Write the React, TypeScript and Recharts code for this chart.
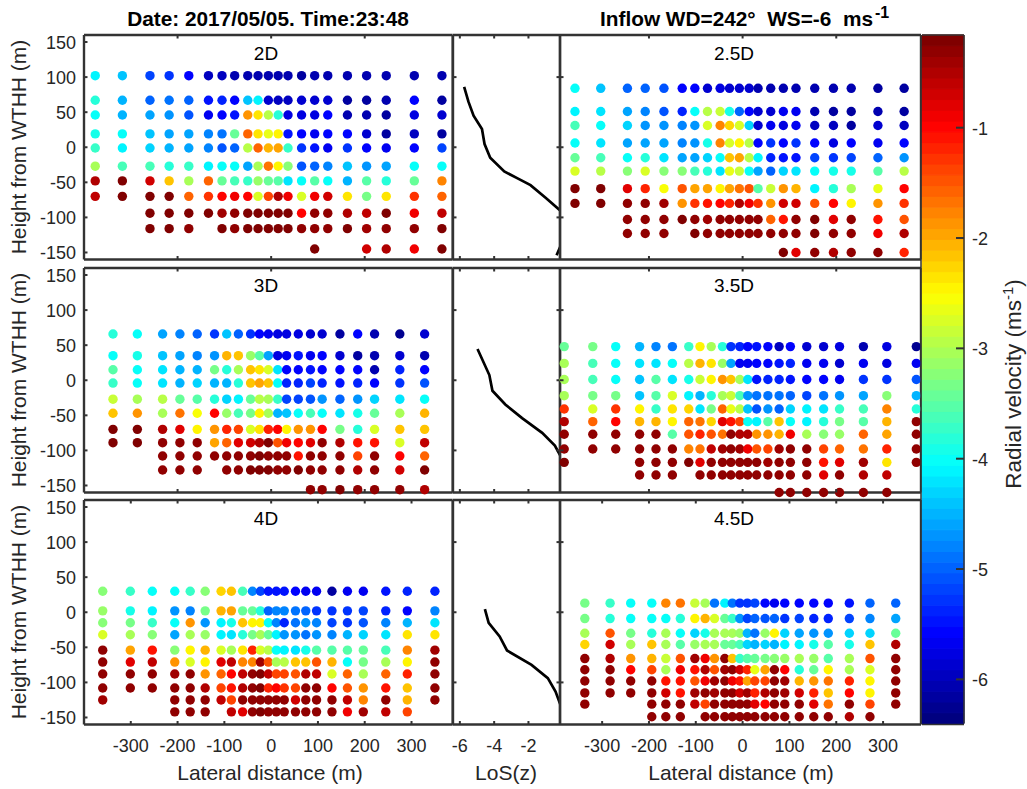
import React from "react";
import { ScatterChart, Scatter, LineChart, Line, XAxis, YAxis, ReferenceArea } from "recharts";

const N = null;
const FONT = '"Liberation Sans", Arial, sans-serif';
const INK = "#262626";
const CLIM: [number, number] = [-6.4, -0.16];

const xs2D = [-376, -318, -259, -218, -176, -134, -105, -78, -50, -28, -6, 15, 36, 65, 93, 121, 163, 204, 246, 306, 365];
const ys2D = [102, 67, 46, 19, -1, -27, -48, -70, -94, -116, -145];
const vals2D = [
  [-4.1, -4.4, -5.2, -5.3, -5.6, -6.0, -6.0, -6.1, -6.1, -6.1, -6.1, -6.1, -6.1, -6.2, -6.1, -6.1, -6.1, -6.1, -6.1, -6.1, -6.1],
  [-3.8, -4.5, -4.95, -4.9, -5.0, -5.5, -5.4, -5.6, -4.4, -4.1, -5.9, -6.0, -6.0, -5.9, -5.9, -5.9, -6.2, -6.2, -6.1, -5.6, -6.2],
  [-4.0, -4.5, -4.6, -4.7, -5.1, -5.7, -5.6, -5.5, -1.9, -2.4, -2.9, -3.8, -5.8, -5.8, -5.8, -5.6, -6.1, -6.1, -6.2, -5.8, -5.9],
  [-3.9, -4.05, -4.4, -4.6, -4.6, -4.8, -4.9, -3.4, -1.6, -2.4, -2.6, -2.45, -5.5, -5.6, -5.7, -5.6, -5.6, -5.9, -6.2, -6.0, -6.2],
  [-3.7, -4.1, -4.3, -4.5, -4.6, -4.8, -5.1, -5.0, -2.9, -1.6, -2.1, -2.0, -3.7, -5.3, -5.5, -5.7, -5.3, -5.6, -5.7, -5.6, -5.2],
  [-3.0, -3.6, -3.6, -3.8, -3.7, -4.1, -4.0, -4.05, -4.6, -3.0, -1.65, -2.45, -3.2, -5.1, -5.0, -4.8, -4.4, -4.7, -4.6, -4.0, -4.05],
  [-0.5, -0.2, -0.65, -2.2, -3.0, -1.55, -3.4, -3.6, -3.7, -3.1, -3.4, -3.5, -4.25, -4.05, -3.5, -4.05, -4.5, -3.5, -3.8, -3.4, -1.8],
  [-0.6, -0.2, -0.25, -0.2, -1.6, -1.25, -0.95, -0.9, -0.95, -2.7, -1.4, -0.5, -0.85, -2.7, -0.85, -0.7, -2.35, -3.3, -2.4, -1.3, -1.6],
  [N, N, -0.25, -0.25, -0.25, -0.25, -0.4, -0.3, -0.25, -0.2, -0.25, -0.25, -0.25, -0.95, -0.3, -0.3, -0.5, -0.6, -0.25, -0.85, -0.6],
  [N, N, -0.25, -0.25, -0.3, N, -0.25, -0.3, -0.25, -0.25, -0.25, -0.25, -0.25, -0.3, -0.3, -0.3, -0.25, -0.4, -0.35, -0.35, -0.25],
  [N, N, N, N, N, N, N, N, N, N, N, N, N, N, -0.25, N, N, -0.7, -0.55, -0.9, -0.2],
];

const xs25D = [-358, -303, -246, -208, -168, -129, -102, -75, -48, -28, -7, 14, 33, 60, 87, 114, 154, 194, 232, 289, 345];
const ys25D = [84, 51, 31, 6, -15, -34, -59, -80, -103, -123, -150];
const vals25D = [
  [-4.05, -4.4, -5.0, -5.0, -5.1, -5.55, -5.55, -5.85, -5.8, -5.85, -5.85, -5.9, -6.05, -6.05, -6.1, -6.1, -6.1, -6.1, -6.1, -6.15, -6.2],
  [-4.1, -4.25, -4.6, -4.75, -5.05, -5.35, -4.05, -2.9, -2.85, -3.9, -5.0, -5.6, -5.85, -5.85, -5.7, -5.7, -6.05, -6.15, -6.15, -6.1, -6.2],
  [-3.65, -4.05, -4.3, -4.65, -4.65, -4.75, -4.65, -2.7, -1.8, -2.25, -2.75, -4.35, -5.85, -5.65, -5.75, -5.65, -5.95, -6.0, -6.2, -5.9, -5.95],
  [-4.05, -4.2, -4.55, -4.55, -4.55, -4.75, -4.7, -3.95, -1.75, -2.7, -2.45, -2.9, -5.6, -5.3, -5.6, -5.3, -5.6, -5.8, -5.6, -5.7, -5.6],
  [-3.4, -3.65, -4.0, -3.85, -4.2, -4.55, -4.55, -4.3, -4.05, -2.15, -1.95, -2.9, -4.1, -5.4, -5.5, -5.5, -5.2, -5.3, -5.2, -5.0, -4.7],
  [-2.7, -2.95, -3.2, -2.7, -3.25, -3.2, -3.6, -3.8, -4.2, -2.65, -2.8, -4.05, -4.6, -5.0, -4.3, -4.2, -4.05, -3.95, -3.9, -3.5, -2.9],
  [-0.2, -0.2, -0.8, -1.15, -2.55, -1.45, -2.0, -1.95, -2.45, -1.95, -1.7, -1.45, -3.5, -2.8, -1.85, -2.1, -4.1, -3.8, -3.0, -2.6, -0.95],
  [-0.2, -0.2, -0.3, -0.35, -0.4, -1.85, -1.25, -1.05, -0.95, -1.2, -0.5, -0.9, -1.3, -1.85, -0.65, -0.65, -1.5, -0.95, -2.5, -1.9, -1.25],
  [N, N, -0.3, -0.3, -0.3, -0.25, -0.3, -0.45, -0.3, -0.3, -0.3, -0.3, -0.3, -1.55, -1.05, -0.3, -0.25, -0.75, -0.3, -1.05, -1.45],
  [N, N, -0.3, -0.3, -0.3, N, -0.25, -0.35, -0.3, -0.3, -0.3, -0.3, -0.3, -0.3, -0.3, -0.3, -0.25, -0.3, -0.3, -0.85, -0.55],
  [N, N, N, N, N, N, N, N, N, N, N, N, N, N, -0.25, -0.75, -0.3, -0.5, -0.3, -0.3, -1.2],
];

const xs3D = [-338, -286, -232, -195, -158, -121, -95, -70, -44, -25, -6, 14, 33, 58, 84, 109, 147, 185, 221, 275, 328];
const ys3D = [66, 35, 15, -4, -27, -47, -70, -89, -108, -128, -156];
const vals3D = [
  [-3.85, -4.05, -4.55, -4.8, -4.95, -5.3, -4.4, -5.0, -5.3, -5.6, -5.7, -5.8, -5.8, -5.8, -5.9, -5.85, -6.15, -5.6, -6.1, -6.25, -5.9],
  [-4.05, -3.95, -4.4, -4.6, -4.75, -4.7, -2.1, -2.15, -3.1, -3.5, -4.6, -5.75, -5.7, -5.5, -5.7, -5.6, -5.85, -6.2, -6.1, -5.9, -6.05],
  [-3.55, -4.05, -4.2, -4.5, -4.5, -3.35, -3.8, -3.0, -2.2, -2.4, -2.7, -4.2, -5.6, -5.6, -5.5, -5.6, -5.55, -5.6, -6.05, -5.4, -5.55],
  [-3.7, -4.05, -4.25, -4.5, -4.3, -4.5, -4.5, -3.85, -2.2, -2.0, -2.15, -4.0, -5.4, -5.4, -5.2, -5.4, -5.5, -5.4, -5.6, -5.3, -5.1],
  [-2.85, -3.0, -2.9, -3.4, -3.5, -3.8, -4.3, -4.15, -3.4, -2.9, -3.0, -3.7, -5.2, -5.2, -5.05, -4.7, -4.95, -4.7, -4.3, -4.25, -4.0],
  [-2.2, -1.85, -3.0, -1.7, -2.55, -0.95, -3.1, -3.65, -3.3, -2.5, -3.0, -4.5, -4.4, -4.05, -3.65, -4.05, -4.2, -3.95, -3.4, -3.0, -2.1],
  [-0.25, -0.25, -0.55, -0.8, -2.5, -1.85, -1.15, -1.4, -2.7, -2.4, -1.2, -0.95, -2.45, -1.85, -1.85, -0.95, -3.3, -3.8, -2.75, -2.15, -2.15],
  [-0.25, -0.25, -0.3, -0.3, -0.3, -1.95, -1.6, -0.75, -0.7, -0.55, -0.25, -1.45, -0.9, -0.95, -0.75, -0.3, -0.55, -1.05, -1.1, -2.75, -0.6],
  [N, N, -0.3, -0.3, -0.3, -0.3, -0.3, -0.3, -0.3, -0.25, -0.3, -0.3, -0.3, -1.1, -0.3, -0.3, -0.3, -1.4, -0.3, -0.95, -1.6],
  [N, N, -0.3, -0.3, -0.3, N, -0.3, -0.3, -0.25, -0.25, -0.25, -0.3, -0.3, -0.25, -0.3, -0.3, -0.3, -0.5, -0.3, -0.65, -0.25],
  [N, N, N, N, N, N, N, N, N, N, N, N, N, N, -0.35, -0.3, -0.25, -0.3, -0.3, -0.3, -0.55],
];

const xs35D = [-381, -320, -271, -220, -185, -150, -115, -91, -67, -43, -25, -6, 11, 30, 54, 78, 102, 137, 173, 207, 258, 308, 371];
const ys35D = [48, 24, 1, -22, -41, -59, -77, -98, -117, -135, -160];
const vals35D = [
  [-3.4, -3.3, -4.05, -4.5, -4.8, -4.85, -3.7, -2.45, -3.0, -3.85, -5.3, -5.4, -5.6, -5.5, -5.6, -5.95, -5.6, -5.9, -5.9, -5.8, -6.1, -5.8, -6.25],
  [-3.05, -3.6, -4.0, -4.2, -4.25, -4.05, -2.9, -2.1, -2.4, -3.1, -4.6, -5.7, -5.7, -5.55, -5.6, -5.5, -5.4, -5.65, -5.65, -5.85, -5.7, -5.75, -5.65],
  [-3.0, -3.6, -4.05, -4.4, -3.5, -4.25, -3.9, -2.85, -2.5, -1.9, -2.15, -3.0, -4.2, -5.5, -5.4, -5.4, -5.45, -5.55, -5.6, -5.7, -5.3, -5.3, -5.1],
  [-3.05, -3.3, -3.35, -4.4, -3.5, -2.75, -4.15, -4.5, -3.85, -3.0, -2.85, -3.6, -4.7, -4.9, -4.85, -4.9, -5.0, -5.2, -4.9, -4.65, -4.6, -3.25, -4.5],
  [-1.3, -2.75, -1.25, -2.5, -3.7, -2.35, -2.25, -4.25, -3.35, -1.6, -2.6, -2.95, -4.45, -5.1, -4.7, -4.95, -4.35, -4.1, -4.25, -3.75, -3.6, -1.8, -3.8],
  [-0.5, -1.6, -0.95, -2.05, -2.05, -2.5, -1.55, -1.7, -2.25, -0.75, -1.1, -1.35, -4.05, -4.1, -3.5, -2.15, -4.05, -4.1, -3.85, -3.35, -3.55, -2.1, -0.35],
  [-0.3, -0.3, -0.35, -0.3, -0.3, -3.55, -1.45, -1.15, -1.45, -1.65, -0.35, -0.5, -0.5, -1.9, -1.9, -2.05, -0.9, -3.0, -3.25, -3.1, -1.55, -2.0, -0.3],
  [-0.3, -0.3, -0.35, -0.3, -0.3, -0.35, -1.8, -1.65, -0.6, -0.4, -0.3, -0.45, -0.9, -1.5, -1.35, -0.4, -0.3, -0.3, -1.4, -1.6, -1.65, -1.15, -0.3],
  [-0.25, N, N, -0.3, -0.3, -0.3, -0.25, -0.8, -0.35, -0.3, -0.3, -0.3, -0.3, -0.3, -0.45, -0.3, -0.3, -0.3, -1.05, -0.75, -0.45, -2.35, -0.3],
  [N, N, N, -0.3, -0.3, -0.3, N, -0.3, -0.3, -0.3, -0.3, -0.3, -0.3, -0.3, -0.35, -0.3, -0.3, -0.3, -0.8, -0.3, -0.55, -0.6, N],
  [N, N, N, N, N, N, N, N, N, N, N, N, N, N, N, -0.3, -0.3, -0.3, -0.3, -0.35, -0.3, -0.35, N],
];

const xs4D = [-360, -301, -254, -206, -173, -141, -107, -85, -61, -40, -23, -6, 11, 28, 52, 74, 97, 130, 163, 197, 245, 291, 350];
const ys4D = [30, 2, -15, -32, -54, -71, -88, -108, -125, -142];
const vals4D = [
  [-3.2, -3.7, -4.05, -4.05, -3.75, -3.2, -2.25, -2.2, -3.6, -4.75, -5.2, -5.5, -5.5, -5.45, -5.6, -5.65, -5.65, -6.15, -5.65, -5.7, -5.5, -5.35, -5.35],
  [-3.15, -3.95, -4.1, -4.7, -4.8, -3.3, -2.1, -1.95, -3.4, -3.4, -3.8, -5.0, -4.8, -4.8, -4.85, -5.0, -5.25, -5.3, -5.25, -5.2, -5.4, -5.55, -4.75],
  [-3.2, -3.3, -3.75, -4.05, -1.85, -4.65, -4.1, -3.9, -2.2, -2.5, -2.5, -4.05, -4.8, -5.4, -4.85, -4.7, -4.8, -5.2, -5.3, -5.1, -4.75, -4.5, -4.25],
  [-2.75, -3.0, -3.25, -4.6, -3.0, -3.1, -4.15, -4.2, -3.8, -3.35, -3.0, -3.4, -4.1, -4.7, -4.7, -4.85, -4.7, -4.8, -4.5, -4.3, -4.2, -2.35, -2.4],
  [-0.3, -2.0, -1.05, -3.25, -2.5, -2.05, -2.7, -3.0, -2.4, -1.15, -2.7, -2.9, -4.05, -4.1, -4.2, -3.95, -3.5, -3.55, -3.5, -3.45, -3.65, -1.8, -0.45],
  [-0.3, -0.75, -0.6, -1.85, -2.7, -2.5, -0.75, -0.6, -1.75, -1.8, -0.45, -1.45, -3.0, -2.95, -2.15, -2.15, -1.5, -2.1, -4.05, -3.35, -3.0, -2.45, -0.3],
  [-0.3, -0.3, -0.3, -0.4, -0.3, -1.85, -1.6, -1.0, -0.6, -0.3, -0.25, -0.6, -1.4, -1.4, -1.45, -0.5, -0.6, -2.7, -1.55, -3.0, -1.55, -1.2, -0.3],
  [-0.35, -0.35, -0.3, -0.3, -0.3, -0.55, -1.35, -1.1, -0.55, -0.3, -0.25, -1.15, -0.95, -1.25, -1.35, -0.3, -0.3, -0.95, -1.5, -1.85, -1.1, -2.15, -0.3],
  [-0.45, N, N, -0.35, -0.3, -0.3, -0.6, -1.35, -0.35, -0.3, -0.3, -0.3, -0.3, -0.35, -0.7, -0.3, -0.3, -0.3, -0.6, -1.8, -0.3, -2.05, -0.3],
  [N, N, N, -0.3, -0.3, -0.3, N, -0.6, -0.75, -0.3, -0.25, -0.3, -0.3, -0.3, -0.3, -0.3, -0.3, -0.3, -0.9, -0.4, -0.6, -1.35, N],
];

const xs45D = [-337, -283, -239, -194, -164, -133, -102, -80, -60, -38, -22, -6, 10, 26, 48, 68, 90, 121, 152, 183, 228, 272, 327];
const ys45D = [13, -9, -30, -46, -66, -82, -98, -115, -131, -149];
const vals45D = [
  [-3.3, -3.7, -4.05, -4.05, -1.8, -1.7, -2.85, -3.0, -4.85, -4.1, -4.9, -5.3, -5.25, -5.15, -5.6, -5.7, -5.6, -5.6, -5.6, -5.6, -5.45, -5.0, -4.95],
  [-3.35, -3.8, -4.05, -4.05, -4.05, -3.8, -2.45, -2.05, -2.75, -3.4, -3.7, -4.7, -5.2, -5.0, -5.1, -5.0, -5.25, -5.2, -5.35, -5.35, -5.15, -4.8, -4.6],
  [-3.0, -1.5, -3.35, -3.85, -3.05, -4.0, -4.35, -3.9, -3.0, -3.0, -3.05, -3.1, -4.5, -4.85, -3.15, -2.45, -4.3, -4.55, -4.7, -4.65, -4.3, -4.3, -3.45],
  [-2.3, -0.65, -3.05, -2.2, -3.0, -3.5, -3.1, -3.0, -3.05, -3.4, -3.45, -3.6, -4.3, -4.5, -4.3, -4.5, -4.1, -4.1, -3.9, -3.5, -3.9, -2.2, -0.5],
  [-0.3, -0.5, -1.85, -2.1, -2.85, -1.45, -0.45, -0.9, -1.85, -0.3, -2.2, -3.7, -3.5, -3.45, -3.35, -3.2, -3.15, -3.05, -3.15, -3.55, -3.05, -1.45, -0.3],
  [-0.3, -0.3, -0.95, -1.35, -3.0, -0.9, -1.1, -0.55, -1.45, -0.4, -0.35, -0.65, -1.15, -2.65, -2.0, -0.3, -0.95, -3.85, -3.4, -2.5, -3.0, -2.75, -0.3],
  [-0.3, -0.3, -0.3, -0.3, -1.1, -1.05, -1.5, -0.85, -0.4, -0.35, -0.9, -1.05, -1.95, -1.4, -1.4, -0.3, -0.45, -2.05, -1.85, -1.65, -1.2, -2.5, -0.3],
  [-0.3, -0.3, -0.3, -0.3, -0.65, -1.1, -0.45, -0.35, -0.4, -0.35, -0.35, -0.7, -0.45, -1.2, -0.5, -0.35, -0.45, -0.7, -1.2, -2.15, -0.95, -2.5, -0.3],
  [-0.3, N, N, -0.3, -0.3, -0.3, -0.6, -1.35, -0.3, -0.3, -0.3, -0.3, -0.35, -0.75, -0.95, -0.3, -0.3, -0.3, -0.75, -1.7, -0.3, -1.4, -0.3],
  [N, N, N, -0.3, -0.3, -0.3, N, -0.3, -0.3, -0.3, -0.3, -0.3, -0.3, -0.3, -0.35, -0.3, -0.3, -0.3, -0.3, -0.3, -0.55, -0.3, N],
];

const losRow1 = [-5.75, -5.5, -5.2, -4.71, -4.56, -4.23, -3.41, -2.66, -1.88, -1.0, -0.15, 0.3, 0.4, -0.15, -0.36];
const zRow1 = [86, 65, 45, 26, 4.5, -15, -34.5, -44, -54, -72, -90, -105, -125, -142, -154];
const losRow2 = [-4.97, -4.28, -4.1, -3.35, -2.37, -1.2, -0.46, -0.15];
const zRow2 = [44.5, 7.4, -15, -34.5, -54, -75, -93, -107];
const losRow3 = [-4.54, -4.32, -3.68, -3.25, -1.82, -0.87, -0.42, -0.15];
const zRow3 = [4.5, -15, -34.5, -54.5, -75, -94, -113, -131];

const heightTicks = [150, 100, 50, 0, -50, -100, -150];
const sparseHeightTicks = [100, 0, -100];
const sparseLateral = [-200, 0, 200];
const denseLateral = [-300, -200, -100, 0, 100, 200, 300];
const losTicks = [-6, -4, -2];
const velocityTicks = [-1, -2, -3, -4, -5, -6];

const clamp = (v: number) => Math.max(0, Math.min(1, v));
const jet = (t: number) => {
  const c = (d: number) => Math.round(255 * clamp(1.5 - Math.abs(4 * t - d)));
  return `rgb(${c(3)},${c(2)},${c(1)})`;
};
const colorOf = (v: number) => {
  const t = clamp((v - CLIM[0]) / (CLIM[1] - CLIM[0]));
  return jet(Math.min(63, Math.floor(t * 64)) / 63);
};

const toPoints = (xs: number[], ys: number[], vals: (number | null)[][]) =>
  ys.flatMap((y, r) =>
    xs.flatMap((x, c) => (vals[r][c] === null ? [] : [{ x, y, v: vals[r][c] as number }]))
  );
const toLine = (los: number[], z: number[]) => los.map((l, i) => ({ los: l, z: z[i] }));

// Space kept round each plot box; each of the four axes takes 1px of it.
const M = { top: 8, right: 8, bottom: 36, left: 46 };
const MARGIN = { top: M.top - 1, right: M.right - 1, bottom: M.bottom - 1, left: M.left - 1 };
const ROWS = [35, 267.5, 500];
const PH = 224.5;
const YD: [number, number] = [-160, 160];
const LEFT = { px: 84, pw: 368.7, dom: [-400, 388] as [number, number] };
const MID = { px: 452.7, pw: 107, dom: CLIM };
const RIGHT = { px: 559.7, pw: 361, dom: [-390, 381] as [number, number] };

const FRAME = "#333333";
const TICK_FS = 18;
const TITLE_FS = 21;
type TickProps = { x: number; y: number; payload: { value: number } };
const tickY = (side: "left" | "right", len: number, label: boolean) => (p: TickProps) => {
  const d = side === "left" ? 1 : -1;
  return (
    <g>
      <line x1={p.x} x2={p.x + d * len} y1={p.y} y2={p.y} stroke={FRAME} strokeWidth={2} />
      {label ? (
        <text x={p.x + (side === "left" ? -8 : 8)} y={p.y + 7} textAnchor={side === "left" ? "end" : "start"} fontSize={TICK_FS} fill={INK} fontFamily={FONT}>
          {p.payload.value}
        </text>
      ) : null}
    </g>
  );
};
const tickX = (side: "top" | "bottom", len: number, label: boolean) => (p: TickProps) => {
  const d = side === "top" ? 1 : -1;
  return (
    <g>
      <line x1={p.x} x2={p.x} y1={p.y} y2={p.y + d * len} stroke={FRAME} strokeWidth={2} />
      {label ? (
        <text x={p.x} y={p.y + 27.5} textAnchor="middle" fontSize={TICK_FS} fill={INK} fontFamily={FONT}>
          {p.payload.value}
        </text>
      ) : null}
    </g>
  );
};

const axes = (
  xKey: string,
  yKey: string,
  xDom: [number, number],
  xT: number[],
  yT: number[],
  xLabel: boolean,
  yLabel: boolean,
  overflow: boolean,
  rightTicks: boolean
) => {
  const line = { stroke: FRAME, strokeWidth: 2.4 };
  return [
    <XAxis key="xb" xAxisId={0} orientation="bottom" dataKey={xKey} type="number" domain={xDom} ticks={xT} interval={0} height={1} tickSize={0} tickMargin={0} tickLine={false} axisLine={line} allowDataOverflow={overflow} tick={tickX("bottom", 3.5, xLabel) as any} />,
    <XAxis key="xt" xAxisId="top" orientation="top" dataKey={xKey} type="number" domain={xDom} ticks={xT} interval={0} height={1} tickSize={0} tickMargin={0} tickLine={false} axisLine={line} allowDataOverflow tick={tickX("top", 3.5, false) as any} />,
    <YAxis key="yl" yAxisId={0} orientation="left" dataKey={yKey} type="number" domain={YD} ticks={yT} interval={0} width={1} tickSize={0} tickMargin={0} tickLine={false} axisLine={line} allowDataOverflow={overflow} tick={tickY("left", 3.5, yLabel) as any} />,
    <YAxis key="yr" yAxisId="right" orientation="right" dataKey={yKey} type="number" domain={YD} ticks={rightTicks ? yT : []} interval={0} width={1} tickSize={0} tickMargin={0} tickLine={false} axisLine={line} allowDataOverflow tick={tickY("right", 3.5, false) as any} />,
  ];
};

const Dot = (p: any) => <circle cx={p.cx} cy={p.cy} r={4.7} fill={colorOf(p.payload.v)} />;

const boxStyle = (px: number, py: number): React.CSSProperties => ({
  position: "absolute",
  left: px - M.left,
  top: py - M.top,
});

function ScatterPanel(props: { geo: typeof LEFT; row: number; data: { x: number; y: number; v: number }[]; yLabel: boolean }) {
  const { geo, row, data, yLabel } = props;
  const dense = row === 2;
  return (
    <div style={boxStyle(geo.px, ROWS[row])}>
      <ScatterChart width={geo.pw + M.left + M.right} height={PH + M.top + M.bottom} margin={MARGIN}>
        {axes("x", "y", geo.dom, dense ? denseLateral : sparseLateral, yLabel ? heightTicks : sparseHeightTicks, dense, yLabel, false, false)}
        <Scatter data={data} isAnimationActive={false} shape={Dot} />
      </ScatterChart>
    </div>
  );
}

function LinePanel(props: { row: number; data: { los: number; z: number }[] }) {
  const { row, data } = props;
  return (
    <div style={boxStyle(MID.px, ROWS[row])}>
      <LineChart width={MID.pw + M.left + M.right} height={PH + M.top + M.bottom} margin={MARGIN} data={data}>
        {axes("los", "z", MID.dom, losTicks, sparseHeightTicks, row === 2, false, true, true)}
        <Line dataKey="z" stroke="#000000" strokeWidth={2.7} dot={false} activeDot={false} isAnimationActive={false} />
      </LineChart>
    </div>
  );
}

const bands = Array.from({ length: 64 }, (_, i) => i);

function Colorbar() {
  const top = 35;
  const h = 689.5;
  const w = 43;
  const step = (CLIM[1] - CLIM[0]) / 64;
  const line = { stroke: FRAME, strokeWidth: 1.5 };
  return (
    <div style={boxStyle(920.7, top)}>
      <ScatterChart width={w + M.left + 40} height={h + M.top + 10} margin={{ top: M.top - 1, left: M.left - 1, right: 39, bottom: 9 }}>
        <XAxis xAxisId={0} orientation="bottom" type="number" dataKey="a" domain={[0, 1]} ticks={[]} height={1} tickLine={false} axisLine={false} allowDataOverflow />
        <YAxis yAxisId={0} orientation="left" type="number" dataKey="b" domain={CLIM} width={1} ticks={[]} tickLine={false} axisLine={false} allowDataOverflow />
        {bands.map((i) => (
          <ReferenceArea key={i} xAxisId={0} yAxisId={0} x1={0} x2={1} y1={CLIM[0] + i * step} y2={CLIM[0] + (i + 1) * step} ifOverflow="visible" fill={jet(i / 63)} fillOpacity={1} stroke={jet(i / 63)} strokeWidth={1} />
        ))}
        <XAxis xAxisId="t" orientation="top" type="number" dataKey="a" domain={[0, 1]} ticks={[]} height={1} tickLine={false} axisLine={line} allowDataOverflow />
        <XAxis xAxisId="b" orientation="bottom" type="number" dataKey="a" domain={[0, 1]} ticks={[]} height={1} tickLine={false} axisLine={line} allowDataOverflow />
        <YAxis yAxisId="l" orientation="left" type="number" dataKey="b" domain={CLIM} width={1} ticks={[]} tickLine={false} axisLine={line} allowDataOverflow />
        <YAxis yAxisId="r" orientation="right" type="number" dataKey="b" domain={CLIM} ticks={velocityTicks} interval={0} width={1} tickSize={0} tickMargin={0} tickLine={false} axisLine={line} allowDataOverflow tick={tickY("right", 8, true) as any} />
      </ScatterChart>
    </div>
  );
}

const TITLE_STYLE = { fontFamily: FONT, fill: "#000" };
const panelNames = [
  { t: "2D", x: 266, y: 60 },
  { t: "2.5D", x: 734, y: 60 },
  { t: "3D", x: 266, y: 292 },
  { t: "3.5D", x: 734, y: 292 },
  { t: "4D", x: 266, y: 525 },
  { t: "4.5D", x: 734, y: 525 },
];
const yTitleCenters = [147, 380, 612];

export default function App() {
  return (
    <div style={{ position: "absolute", left: 0, top: 0, width: 1027, height: 789, overflow: "hidden", background: "#fff" }}>
      <ScatterPanel geo={LEFT} row={0} data={toPoints(xs2D, ys2D, vals2D)} yLabel />
      <ScatterPanel geo={LEFT} row={1} data={toPoints(xs3D, ys3D, vals3D)} yLabel />
      <ScatterPanel geo={LEFT} row={2} data={toPoints(xs4D, ys4D, vals4D)} yLabel />
      <LinePanel row={0} data={toLine(losRow1, zRow1)} />
      <LinePanel row={1} data={toLine(losRow2, zRow2)} />
      <LinePanel row={2} data={toLine(losRow3, zRow3)} />
      <ScatterPanel geo={RIGHT} row={0} data={toPoints(xs25D, ys25D, vals25D)} yLabel={false} />
      <ScatterPanel geo={RIGHT} row={1} data={toPoints(xs35D, ys35D, vals35D)} yLabel={false} />
      <ScatterPanel geo={RIGHT} row={2} data={toPoints(xs45D, ys45D, vals45D)} yLabel={false} />
      <Colorbar />
      <svg width={1027} height={789} style={{ position: "absolute", left: 0, top: 0, pointerEvents: "none" }}>
        <text x={268} y={26} textAnchor="middle" fontSize={20.8} fontWeight="bold" {...TITLE_STYLE}>Date: 2017/05/05. Time:23:48</text>
        <text x={600} y={26} fontSize={20.8} fontWeight="bold" {...TITLE_STYLE} xmlSpace="preserve">
          Inflow WD=242°  WS=-6  ms<tspan dy={-8} dx={2} fontSize={16}>-1</tspan>
        </text>
        {panelNames.map((p) => (
          <text key={p.t} x={p.x} y={p.y} textAnchor="middle" fontSize={19} {...TITLE_STYLE}>{p.t}</text>
        ))}
        {yTitleCenters.map((c) => (
          <text key={c} transform={`translate(26,${c}) rotate(-90)`} textAnchor="middle" fontSize={TITLE_FS} fontFamily={FONT} fill={INK}>Height from WTHH (m)</text>
        ))}
        <text x={270} y={780} textAnchor="middle" fontSize={TITLE_FS} fontFamily={FONT} fill={INK}>Lateral distance (m)</text>
        <text x={741} y={780} textAnchor="middle" fontSize={TITLE_FS} fontFamily={FONT} fill={INK}>Lateral distance (m)</text>
        <text x={506} y={780} textAnchor="middle" fontSize={TITLE_FS} fontFamily={FONT} fill={INK}>LoS(z)</text>
        <text transform="translate(1021,384) rotate(-90)" textAnchor="middle" fontSize={22.5} fontFamily={FONT} fill={INK}>
          Radial velocity (ms<tspan dy={-8} fontSize={15}>-1</tspan><tspan dy={8}>)</tspan>
        </text>
      </svg>
    </div>
  );
}
